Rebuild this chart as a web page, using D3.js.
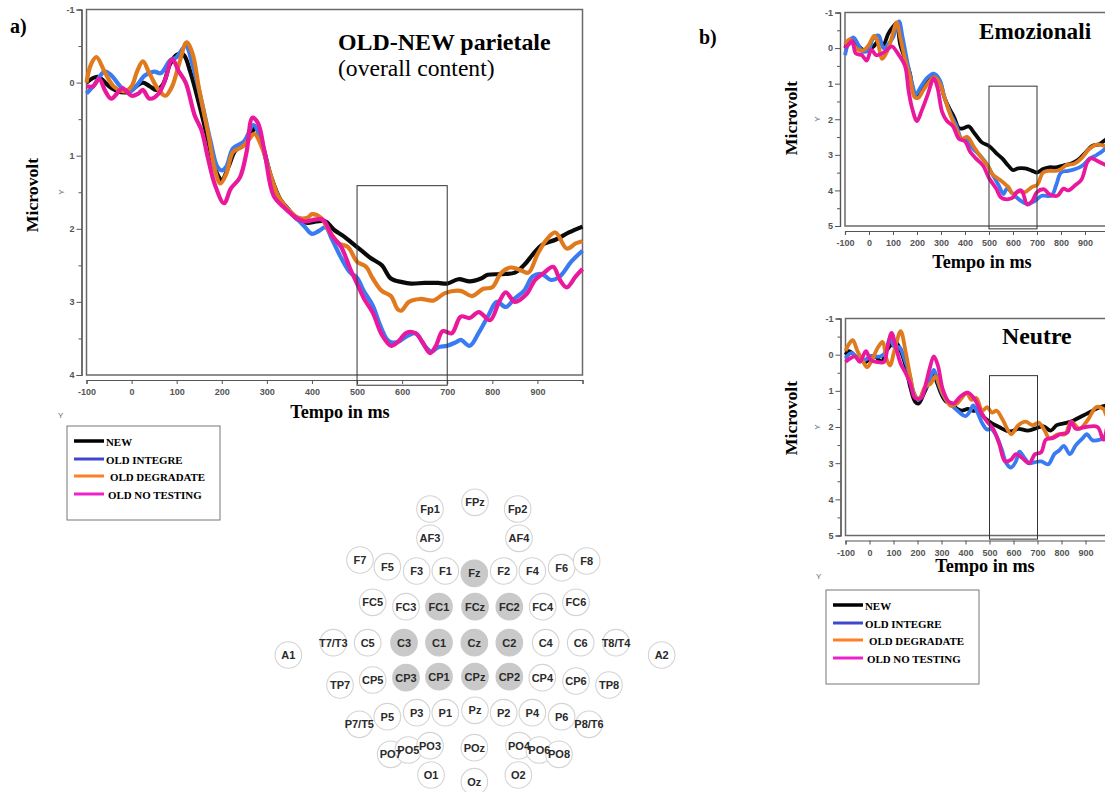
<!DOCTYPE html>
<html>
<head>
<meta charset="utf-8">
<script src="https://cdn.jsdelivr.net/npm/d3@7"></script>
<style>
  html, body { margin: 0; background: #fff; overflow: hidden; }
  .serif { font-family: "Liberation Serif", serif; }
  .sans { font-family: "Liberation Sans", sans-serif; }
</style>
</head>
<body>
<svg id="chart" width="1105" height="792"></svg>
<script>
// [time in ms, microvolt], one array per condition
const seriesNames = ["NEW", "OLD INTEGRE", "OLD DEGRADATE", "OLD NO TESTING"];
const xTicks = [-100, 0, 100, 200, 300, 400, 500, 600, 700, 800, 900];
const window500 = [500, 700];

const overallNew = [[-100,0],[-75,-0.08],[-50,0.05],[-30,0.12],[-10,0.13],[0,0.1],[25,0],[40,0.05],[55,0.1],[70,0.02],[85,-0.25],[100,-0.38],[115,-0.38],[130,-0.15],[150,0.3],[170,0.8],[185,1.18],[200,1.33],[215,1.15],[230,0.93],[250,0.85],[265,0.7],[275,0.62],[290,0.85],[310,1.3],[330,1.6],[350,1.75],[370,1.88],[390,1.92],[410,1.9],[430,1.9],[450,2.02],[470,2.1],[490,2.2],[510,2.3],[530,2.4],[555,2.5],[575,2.68],[600,2.73],[620,2.75],[650,2.74],[680,2.74],[700,2.75],[725,2.69],[750,2.72],[775,2.68],[790,2.63],[820,2.62],[850,2.6],[870,2.5],[890,2.35],[910,2.22],[940,2.15],[970,2.05],[1000,1.97]];
const overallIntegre = [[-100,0.15],[-85,0.05],[-60,-0.15],[-45,-0.1],[-25,0.05],[-5,0.13],[10,0.05],[30,-0.1],[50,-0.15],[65,-0.13],[85,-0.3],[100,-0.35],[120,-0.5],[135,-0.25],[155,0.25],[175,0.8],[190,1.15],[200,1.2],[210,1.15],[225,0.9],[250,0.8],[270,0.58],[285,0.75],[300,1.1],[320,1.5],[340,1.7],[365,1.85],[385,1.98],[400,2.07],[415,2.03],[430,1.98],[445,2.15],[465,2.4],[485,2.6],[500,2.67],[515,2.85],[535,3.05],[550,3.3],[565,3.5],[575,3.55],[590,3.55],[610,3.47],[630,3.43],[650,3.6],[665,3.68],[680,3.62],[700,3.6],[720,3.55],[730,3.52],[750,3.6],[770,3.42],[790,3.2],[810,3],[830,3.07],[850,2.95],[870,2.85],[890,2.65],[910,2.62],[930,2.7],[950,2.65],[975,2.45],[1000,2.3]];
const overallDegradate = [[-100,0],[-90,-0.25],[-78,-0.35],[-60,-0.15],[-40,0.05],[-15,0.12],[0,0.05],[12,-0.15],[25,-0.29],[40,-0.12],[60,0.1],[75,0.18],[90,0.05],[105,-0.25],[122,-0.55],[135,-0.4],[150,0.1],[170,0.7],[185,1.2],[197,1.38],[210,1.25],[225,0.95],[245,0.88],[260,0.78],[272,0.7],[290,0.9],[305,1.2],[325,1.55],[345,1.72],[370,1.85],[390,1.85],[400,1.8],[420,1.85],[440,2.05],[460,2.2],[480,2.25],[500,2.45],[520,2.52],[535,2.68],[555,2.85],[575,2.92],[590,3.1],[598,3.12],[615,3],[640,2.96],[670,2.98],[695,2.88],[730,2.85],[755,2.92],[780,2.82],[800,2.8],[820,2.6],[840,2.53],[860,2.56],[880,2.6],[900,2.35],[920,2.15],[940,2.05],[965,2.27],[985,2.2],[1000,2.17]];
const overallNoTesting = [[-100,0.05],[-85,0.05],[-72,-0.05],[-58,0.12],[-45,0.22],[-20,0.08],[0,0.18],[15,0.15],[25,0.1],[40,0.22],[60,0.15],[75,-0.05],[90,-0.32],[105,-0.15],[120,0],[140,0.45],[155,0.65],[170,1.05],[185,1.4],[205,1.65],[220,1.45],[240,1.3],[255,0.95],[268,0.48],[280,0.55],[295,0.95],[315,1.55],[340,1.72],[365,1.85],[385,1.9],[410,1.87],[425,1.88],[445,2.1],[465,2.25],[485,2.55],[500,2.75],[515,2.95],[535,3.15],[555,3.45],[575,3.6],[590,3.55],[610,3.42],[630,3.43],[645,3.55],[662,3.7],[675,3.6],[690,3.4],[710,3.43],[730,3.2],[750,3.22],[770,3.14],[795,3.25],[815,3],[830,2.87],[850,3],[875,2.9],[895,2.7],[915,2.6],[935,2.52],[950,2.7],[965,2.8],[985,2.65],[1000,2.55]];

const emoNew = [[-100,0],[-75,-0.2],[-50,-0.1],[-25,0.05],[0,0.05],[20,-0.05],[40,-0.2],[60,-0.1],[80,-0.4],[100,-0.6],[115,-0.7],[130,-0.1],[150,0.3],[170,0.7],[190,1.3],[205,1.3],[225,1.05],[250,0.85],[275,0.75],[295,0.95],[315,1.4],[335,1.7],[355,1.95],[375,2.25],[395,2.25],[415,2.2],[440,2.4],[470,2.65],[500,2.75],[530,2.95],[555,3.1],[580,3.3],[600,3.43],[620,3.38],[650,3.38],[680,3.45],[700,3.5],[725,3.4],[750,3.35],[780,3.35],[810,3.3],[840,3.25],[870,3.15],[900,2.95],[930,2.75],[960,2.7],[990,2.55],[1020,2.4]];
const emoIntegre = [[-100,0.2],[-85,-0.15],[-65,-0.3],[-45,-0.1],[-25,0.1],[0,0.05],[15,-0.25],[40,-0.35],[60,0],[80,-0.1],[100,-0.3],[125,-0.75],[140,-0.3],[160,0.4],[180,1],[195,1.3],[215,1.1],[240,0.85],[270,0.72],[295,0.9],[315,1.4],[340,1.85],[365,2.2],[385,2.55],[410,2.6],[430,2.8],[460,3],[490,3.25],[510,3.5],[540,3.85],[560,4.1],[575,3.95],[600,4.1],[630,4.28],[660,4.38],[690,4.3],[720,4.15],[760,4.15],[780,3.85],[800,3.5],[830,3.45],[860,3.4],[890,3.3],[920,3.1],[950,3],[980,2.85],[1020,2.4]];
const emoDegradate = [[-100,-0.1],[-80,-0.25],[-65,-0.1],[-45,0.05],[-20,0.05],[0,-0.1],[22,-0.35],[35,-0.2],[55,0.3],[75,0.1],[95,-0.3],[115,-0.72],[130,-0.3],[150,0.3],[170,0.8],[190,1.38],[205,1.4],[225,1.2],[250,0.95],[272,0.82],[295,1],[315,1.4],[340,1.9],[365,2.3],[385,2.55],[410,2.5],[435,2.75],[465,3.05],[495,3.3],[515,3.55],[545,3.7],[580,3.9],[600,4.1],[625,4.03],[650,4.05],[680,3.9],[700,3.85],[725,3.5],[750,3.45],[780,3.45],[800,3.4],[825,3.28],[855,3.25],[885,3.1],[915,2.85],[945,2.72],[965,2.72],[990,2.75],[1020,2.6]];
const emoNoTesting = [[-100,0],[-85,-0.1],[-70,-0.2],[-55,0.15],[-30,0.2],[-10,0.35],[10,0.05],[30,0.2],[55,0.15],[75,0.05],[95,-0.05],[120,0.15],[150,0.5],[165,1.2],[180,1.7],[200,2.05],[220,1.75],[245,1.3],[270,0.85],[285,1.1],[305,1.8],[325,2.05],[350,2.2],[375,2.55],[400,2.62],[420,2.9],[445,3.1],[475,3.3],[500,3.65],[530,3.95],[550,4.2],[575,4.25],[600,4.2],[615,4.05],[635,4],[660,4.4],[680,4.3],[700,4.05],[730,3.97],[750,4.1],[785,4.15],[810,3.95],[830,4],[860,3.85],[885,3.7],[910,3.2],[925,3.1],[960,3.2],[990,3.3],[1020,3.4]];

const neuNew = [[-100,0],[-85,-0.1],[-65,0],[-40,0.15],[-15,0.2],[5,0.05],[25,0.05],[50,0.2],[70,-0.1],[95,-0.3],[110,-0.35],[130,-0.1],[150,0.3],[170,0.9],[190,1.3],[205,1.35],[225,1.1],[245,0.8],[265,0.5],[280,0.75],[300,1.1],[320,1.3],[345,1.35],[365,1.5],[385,1.55],[410,1.5],[430,1.55],[455,1.55],[480,1.75],[510,1.9],[540,2],[570,2.1],[590,2.12],[620,2.05],[660,2.1],[700,2.02],[725,1.98],[755,2.1],[780,1.95],[810,1.9],[840,1.85],[870,1.75],[900,1.65],[930,1.55],[960,1.45],[990,1.4],[1020,1.35]];
const neuIntegre = [[-100,0.1],[-75,-0.05],[-50,0.1],[-20,0.15],[0,0.05],[20,0.05],[45,0.05],[65,-0.05],[85,-0.45],[105,-0.2],[125,-0.2],[145,0.1],[165,0.5],[185,1.05],[205,1.25],[225,1],[245,0.8],[268,0.42],[285,0.75],[305,1.1],[325,1.3],[350,1.45],[375,1.6],[400,1.7],[420,1.55],[432,1.4],[450,1.6],[470,1.9],[490,2.07],[505,2.05],[525,2.2],[550,2.6],[570,3],[590,3.12],[610,2.95],[625,2.68],[645,2.85],[665,3],[690,2.97],[715,2.95],[745,3.03],[770,2.75],[790,2.65],[810,2.52],[835,2.75],[860,2.5],[890,2.3],[905,2.2],[930,2.37],[960,2.35],[990,2.25],[1020,2.1]];
const neuDegradate = [[-100,-0.1],[-85,-0.3],[-70,-0.4],[-50,-0.1],[-30,0.15],[-10,0.35],[10,0.15],[35,-0.2],[55,-0.35],[70,0.1],[85,0.3],[105,-0.15],[130,-0.65],[150,-0.1],[170,0.6],[190,1.15],[210,1.2],[230,0.9],[255,0.8],[275,0.6],[295,0.9],[315,1.2],[340,1.42],[365,1.35],[390,1.15],[405,1.05],[425,1.25],[445,1.2],[470,1.55],[490,1.45],[510,1.6],[530,1.55],[555,1.8],[590,2.2],[620,1.95],[650,1.85],[680,1.95],[705,1.88],[730,2.1],[750,2.32],[785,2.2],[815,2.2],[840,1.85],[875,2.05],[910,1.8],[945,1.45],[975,1.5],[990,1.7],[1020,1.6]];
const neuNoTesting = [[-100,0.2],[-80,0.1],[-60,0.05],[-40,0.2],[-15,-0.1],[5,0.15],[30,0.2],[60,0.2],[75,-0.2],[92,-0.6],[110,-0.2],[130,0.25],[150,0.5],[170,0.8],[190,1.2],[215,1.2],[235,0.8],[250,0.4],[268,0.05],[285,0.3],[305,0.95],[330,1.3],[350,1.35],[380,1.15],[410,1.05],[440,1.25],[465,1.6],[490,1.85],[515,2.05],[540,2.45],[565,2.95],[590,2.9],[610,2.75],[635,2.85],[665,3],[690,2.75],[715,2.7],[735,2.35],[765,2.3],[795,2.2],[825,2.15],[840,1.85],[860,2.05],[900,2],[950,2],[975,2.35],[1000,1.8],[1020,1.75]];

// electrode montage, units are the cells of the head map
const electrodes = ["Fp1","FPz","Fp2","AF3","AF4","F7","F5","F3","F1","Fz","F2","F4","F6","F8","FC5","FC3","FC1","FCz","FC2","FC4","FC6","T7/T3","C5","C3","C1","Cz","C2","C4","C6","T8/T4","A1","A2","TP7","CP5","CP3","CP1","CPz","CP2","CP4","CP6","TP8","P7/T5","P5","P3","P1","Pz","P2","P4","P6","P8/T6","PO7","PO5","PO3","POz","PO4","PO6","PO8","O1","Oz","O2"];
const electrodeU = [510,645,773,510,777,300,382,470,556,643,731,817,905,980,338,438,537,645,748,848,948,220,323,432,537,643,748,857,962,1068,85,1205,240,338,438,537,645,748,847,948,1047,298,382,470,556,645,731,817,905,987,392,445,510,643,777,838,897,513,643,775];
const electrodeV = [72,52,72,160,160,225,245,258,258,265,258,258,248,228,352,365,365,365,365,365,352,473,473,473,473,473,473,473,473,473,510,510,600,585,578,575,575,575,578,588,600,718,695,683,683,676,683,683,695,718,808,795,782,788,782,795,808,870,890,870];
const activeSites = ["Fz","FC1","FCz","FC2","C3","C1","Cz","C2","CP3","CP1","CPz","CP2"];

const colors = ["#0a0a0a", "#3a7bf2", "#e07a1c", "#ea189c"];
const legendColors = ["#000", "#3f48cc", "#ff7f27", "#ee22cc"];

const svg = d3.select("#chart");

function drawPanel(p) {
  const x = d3.scaleLinear().domain([-100, 1000]).range([p.left, p.right]);
  const y = d3.scaleLinear().domain([-1, p.yMax]).range([p.top, p.bottom]);
  const g = svg.append("g");

  g.append("rect")
    .attr("x", p.left).attr("y", p.top)
    .attr("width", p.right - p.left).attr("height", p.bottom - p.top)
    .attr("fill", "none").attr("stroke", "#6a6a6a").attr("stroke-width", 1.5);

  const yTicks = d3.range(-1, p.yMax + 1);
  const yAxis = g.append("g")
    .attr("transform", `translate(${p.left - 5},0)`)
    .call(d3.axisLeft(y).tickValues(yTicks).tickSize(5).tickFormat(d => d));
  g.append("g")
    .attr("transform", `translate(${p.left - 5},0)`)
    .call(d3.axisLeft(y).tickValues(d3.range(-0.5, p.yMax, 1)).tickSize(3).tickFormat(""));
  const xAxis = g.append("g")
    .attr("transform", `translate(0,${p.bottom + 5})`)
    .call(d3.axisBottom(x).tickValues(xTicks.concat(1000)).tickSize(4)
      .tickFormat(d => d === 1000 ? "" : d));

  g.selectAll(".domain").attr("stroke", "#555").attr("stroke-width", 1.2);
  g.selectAll(".tick line").attr("stroke", "#555");
  g.selectAll(".tick text")
    .attr("class", "sans").attr("fill", "#555")
    .style("font-size", "9px").style("font-weight", "bold");
  yAxis.selectAll("text").attr("dx", "1px");
  xAxis.selectAll("text").attr("dy", "0.9em");

  const line = d3.line().x(d => x(d[0])).y(d => y(d[1])).curve(d3.curveCatmullRom.alpha(0.5));
  g.selectAll("path.erp")
    .data(p.series)
    .enter()
    .append("path")
    .attr("class", "erp")
    .attr("d", line)
    .attr("fill", "none")
    .attr("stroke", (d, i) => colors[i])
    .attr("stroke-width", p.lineWidth)
    .attr("stroke-linejoin", "round");

  g.append("rect")
    .attr("x", x(window500[0])).attr("y", y(p.boxTop))
    .attr("width", x(window500[1]) - x(window500[0]))
    .attr("height", y(p.boxBottom) - y(p.boxTop))
    .attr("fill", "none").attr("stroke", "#333").attr("stroke-width", 1);

  // axis titles
  g.append("text").attr("class", "serif")
    .attr("transform", `translate(${p.yTitleX},${p.yTitleY}) rotate(-90)`)
    .attr("text-anchor", "middle")
    .style("font-size", "17.7px").style("font-weight", "bold")
    .text("Microvolt");
  g.append("text").attr("class", "serif")
    .attr("x", p.xTitleX).attr("y", p.xTitleY)
    .attr("text-anchor", "middle")
    .style("font-size", "18.2px").style("font-weight", "bold")
    .text("Tempo in ms");
  g.append("text").attr("class", "sans")
    .attr("transform", `translate(${p.yTagX},${p.yTagY}) rotate(-90)`)
    .attr("text-anchor", "middle").attr("fill", "#666")
    .style("font-size", "8px")
    .text("Y");
}

function drawLegend(left, top, textX) {
  const g = svg.append("g").attr("transform", `translate(${left},${top})`);
  g.append("rect").attr("width", 153).attr("height", 94)
    .attr("fill", "#fff").attr("stroke", "#777").attr("stroke-width", 1);
  const rowY = d3.scaleOrdinal().domain(seriesNames).range([15, 33, 50, 68]);
  const rows = g.selectAll("g.row").data(seriesNames).enter().append("g").attr("class", "row");
  rows.append("line")
    .attr("x1", 7).attr("x2", 37)
    .attr("y1", d => rowY(d)).attr("y2", d => rowY(d))
    .attr("stroke", (d, i) => legendColors[i])
    .attr("stroke-width", (d, i) => i === 0 ? 3.5 : 3);
  rows.append("text").attr("class", "serif")
    .attr("x", (d, i) => textX[i])
    .attr("y", d => rowY(d) + 4.5)
    .style("font-size", "10.9px").style("font-weight", "bold")
    .text(d => d);
}

function label(text, px, py, size, bold) {
  svg.append("text").attr("class", "serif")
    .attr("x", px).attr("y", py)
    .style("font-size", size + "px")
    .style("font-weight", bold ? "bold" : "normal")
    .text(text);
}

drawPanel({
  left: 86.5, right: 582.5, top: 9.5, bottom: 375, yMax: 4,
  series: [overallNew, overallIntegre, overallDegradate, overallNoTesting],
  lineWidth: 4.2, boxTop: 1.41, boxBottom: 4.14,
  yTitleX: 38, yTitleY: 195, yTagX: 64, yTagY: 192, xTitleX: 340, xTitleY: 418
});
drawPanel({
  left: 845, right: 1109, top: 12.5, bottom: 226, yMax: 5,
  series: [emoNew, emoIntegre, emoDegradate, emoNoTesting],
  lineWidth: 3.8, boxTop: 1.07, boxBottom: 5.08,
  yTitleX: 797, yTitleY: 118, yTagX: 820, yTagY: 119, xTitleX: 982, xTitleY: 268
});
drawPanel({
  left: 845.5, right: 1109.5, top: 318.5, bottom: 535.5, yMax: 5,
  series: [neuNew, neuIntegre, neuDegradate, neuNoTesting],
  lineWidth: 3.8, boxTop: 0.58, boxBottom: 5.1,
  yTitleX: 797, yTitleY: 418, yTagX: 820, yTagY: 427, xTitleX: 985, xTitleY: 572
});

label("a)", 10, 33, 20, true);
label("b)", 699, 44, 20, true);
label("OLD-NEW parietale", 338, 50, 23.9, true);
label("(overall content)", 338, 76, 23.6, false);
label("Emozionali", 979, 39, 23.2, true);
label("Neutre", 1002, 344, 23.8, true);

[[58, 418], [816, 579]].forEach(d => {
  svg.append("text").attr("class", "sans")
    .attr("x", d[0]).attr("y", d[1]).attr("fill", "#666")
    .style("font-size", "8px").text("Y");
});

drawLegend(67, 426, [39, 39, 43, 41]);
drawLegend(826, 590, [39, 39, 43, 41]);

// head map: all circles first, the labels sit on top of them
const hx = d3.scaleLinear().domain([0, 1260]).range([260, 680]);
const hy = d3.scaleLinear().domain([0, 921]).range([485, 792]);
svg.append("g").selectAll("circle")
  .data(electrodes)
  .enter()
  .append("circle")
  .attr("cx", (d, i) => hx(electrodeU[i]))
  .attr("cy", (d, i) => hy(electrodeV[i]))
  .attr("r", 13.3)
  .attr("fill", d => activeSites.includes(d) ? "#c9c9c9" : "#fff")
  .attr("stroke", d => activeSites.includes(d) ? "#c9c9c9" : "#d4d4d4")
  .attr("stroke-width", 1.1);
svg.append("g").selectAll("text")
  .data(electrodes)
  .enter()
  .append("text")
  .attr("class", "sans")
  .attr("x", (d, i) => hx(electrodeU[i]))
  .attr("y", (d, i) => hy(electrodeV[i]))
  .attr("text-anchor", "middle").attr("dy", "0.35em")
  .attr("fill", "#2a2a2a")
  .style("font-size", "11px").style("font-weight", "bold")
  .text(d => d);
</script>
</body>
</html>
